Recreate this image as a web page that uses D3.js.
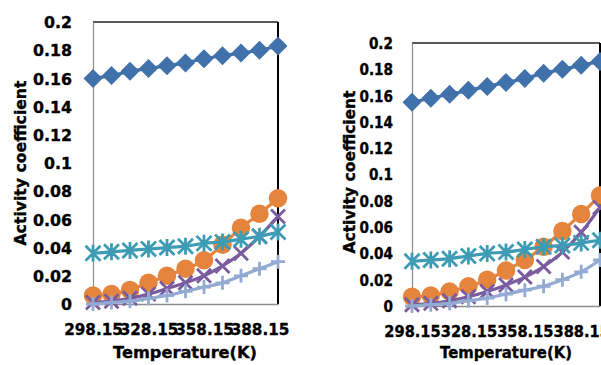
<!DOCTYPE html>
<html>
<head>
<meta charset="utf-8">
<script src="https://cdn.jsdelivr.net/npm/d3@7/dist/d3.min.js"></script>
<style>
  html, body { margin: 0; padding: 0; background: #fff; }
  svg { display: block; }
  text { font-family: "DejaVu Sans", sans-serif; font-weight: bold; fill: #000; stroke: #000; stroke-width: 0.35px; }
</style>
</head>
<body>
<svg id="chart" width="601" height="365"></svg>
<script>
// Temperature categories (K)
const temps = [298.15, 308.15, 318.15, 328.15, 338.15, 348.15, 358.15, 368.15, 378.15, 388.15, 398.15];
const xTickLabels = ["298.15", "328.15", "358.15", "388.15"];
const yTicks = [0, 0.02, 0.04, 0.06, 0.08, 0.1, 0.12, 0.14, 0.16, 0.18, 0.2];

// Left panel activity coefficients
const leftDiamond = [0.160, 0.162, 0.165, 0.167, 0.169, 0.171, 0.174, 0.176, 0.178, 0.180, 0.183];
const leftCircle  = [0.006, 0.007, 0.010, 0.015, 0.020, 0.025, 0.031, 0.042, 0.054, 0.064, 0.075];
const leftCross   = [0.001, 0.002, 0.004, 0.007, 0.011, 0.015, 0.020, 0.027, 0.036, 0.048, 0.062];
const leftStar    = [0.036, 0.037, 0.038, 0.039, 0.040, 0.041, 0.043, 0.044, 0.046, 0.048, 0.051];
const leftPlus    = [0.000, 0.001, 0.002, 0.004, 0.006, 0.009, 0.012, 0.015, 0.020, 0.025, 0.030];

// Right panel activity coefficients
const rightDiamond = [0.155, 0.158, 0.161, 0.164, 0.167, 0.170, 0.173, 0.177, 0.180, 0.183, 0.186];
const rightCircle  = [0.007, 0.008, 0.011, 0.015, 0.020, 0.027, 0.035, 0.045, 0.057, 0.070, 0.084];
const rightCross   = [0.001, 0.002, 0.004, 0.007, 0.011, 0.016, 0.022, 0.030, 0.041, 0.056, 0.075];
const rightStar    = [0.034, 0.035, 0.036, 0.038, 0.040, 0.041, 0.043, 0.045, 0.046, 0.048, 0.050];
const rightPlus    = [0.000, 0.001, 0.002, 0.004, 0.006, 0.009, 0.012, 0.015, 0.020, 0.026, 0.035];

const colors = {
  diamond: "#4171AB",
  circle: "#E5843C",
  cross: "#7A5C9E",
  star: "#3D9CB4",
  plus: "#93AAD3"
};

// Marker outlines, centred on the origin
const markerPath = {
  diamond: "M0,-9.5L9.5,0L0,9.5L-9.5,0Z",
  circle: d3.symbol(d3.symbolCircle, 270)(),
  cross: "M-7,-7L7,7M-7,7L7,-7",
  star: "M0,-8.5L0,8.5M-7.5,-7.5L7.5,7.5M-7.5,7.5L7.5,-7.5",
  plus: "M-7,0L7,0M0,-7L0,7"
};

// Approximate advance widths (em) of the bold label glyphs, used to fix label lengths
function labelEm(s) {
  let w = 0;
  for (const c of s) w += (c === ".") ? 0.38 : 0.696;
  return w;
}

const svg = d3.select("#chart");

function drawPanel(cfg) {
  const x = d3.scalePoint().domain(temps).range([cfg.left, cfg.right]);
  const y = d3.scaleLinear().domain([0, 0.2]).range([cfg.bottom, cfg.top]);
  const g = svg.append("g");

  // Plot frame: grey axis lines on left/bottom, black border on top/right
  g.append("line").attr("x1", cfg.left).attr("x2", cfg.right).attr("y1", cfg.top).attr("y2", cfg.top)
    .attr("stroke", "#222").attr("stroke-width", 1.5);
  g.append("line").attr("x1", cfg.right).attr("x2", cfg.right).attr("y1", cfg.top).attr("y2", cfg.bottom)
    .attr("stroke", "#000").attr("stroke-width", 2);

  const yAxis = d3.axisLeft(y).tickValues(yTicks).tickSize(0).tickPadding(cfg.yPad)
    .tickFormat(d => String(+d.toFixed(2)));
  const ya = g.append("g").attr("transform", `translate(${cfg.left},0)`).call(yAxis);
  ya.select(".domain").attr("stroke", "#8c8c8c").attr("stroke-width", 1.2);
  ya.selectAll("text").style("font-size", cfg.yFont + "px").attr("font-family", null).attr("dy", "0.36em")
    .attr("textLength", function() { return labelEm(this.textContent) * cfg.yEm; })
    .attr("lengthAdjust", "spacingAndGlyphs");

  const xAxis = d3.axisBottom(x)
    .tickValues(temps.filter(t => xTickLabels.includes(t.toFixed(2))))
    .tickSize(0).tickPadding(cfg.xPad).tickFormat(d => d.toFixed(2));
  const xa = g.append("g").attr("transform", `translate(0,${cfg.bottom})`).call(xAxis);
  xa.select(".domain").attr("stroke", "#8c8c8c").attr("stroke-width", 1.5);
  xa.selectAll("text").style("font-size", cfg.xFont + "px").attr("font-family", null)
    .attr("textLength", function() { return labelEm(this.textContent) * cfg.xEm; })
    .attr("lengthAdjust", "spacingAndGlyphs");

  // Series: line first, then markers
  cfg.series.forEach(s => {
    const line = d3.line().x((d, i) => x(temps[i])).y(d => y(d)).curve(d3.curveMonotoneX);
    g.append("path").datum(s.values).attr("d", line)
      .attr("fill", "none").attr("stroke", colors[s.kind]).attr("stroke-width", 3.2);
    const filled = s.kind === "diamond" || s.kind === "circle";
    g.append("g").selectAll("path").data(s.values).join("path")
      .attr("transform", (d, i) => `translate(${x(temps[i])},${y(d)})`)
      .attr("d", markerPath[s.kind])
      .attr("fill", filled ? colors[s.kind] : "none")
      .attr("stroke", filled ? "none" : colors[s.kind])
      .attr("stroke-width", filled ? 0 : 2.8);
  });

  // Axis titles
  g.append("text")
    .attr("transform", `translate(${cfg.yTitleX},${cfg.yTitleY}) rotate(-90)`)
    .attr("text-anchor", "middle").attr("dy", "0.36em")
    .attr("textLength", cfg.yTitleLen).attr("lengthAdjust", "spacingAndGlyphs")
    .style("font-size", cfg.yTitleFont + "px")
    .text("Activity coefficient");
  g.append("text")
    .attr("x", cfg.xTitleX).attr("y", cfg.xTitleY)
    .attr("text-anchor", "middle").attr("dy", "0.36em")
    .attr("textLength", cfg.xTitleLen).attr("lengthAdjust", "spacingAndGlyphs")
    .style("font-size", cfg.xTitleFont + "px")
    .text("Temperature(K)");
}

drawPanel({
  left: 93, right: 278, top: 22, bottom: 304,
  yPad: 21, xPad: 20, yFont: 16, xFont: 16, yEm: 15.8, xEm: 15.2,
  yTitleX: 20, yTitleY: 163, yTitleLen: 165, yTitleFont: 16,
  xTitleX: 185, xTitleY: 352, xTitleLen: 144, xTitleFont: 16,
  series: [
    { kind: "diamond", values: leftDiamond },
    { kind: "circle", values: leftCircle },
    { kind: "cross", values: leftCross },
    { kind: "star", values: leftStar },
    { kind: "plus", values: leftPlus }
  ]
});

drawPanel({
  left: 412, right: 600, top: 43, bottom: 306,
  yPad: 19, xPad: 20, yFont: 15, xFont: 15, yEm: 13.6, xEm: 14.6,
  yTitleX: 349, yTitleY: 172, yTitleLen: 163, yTitleFont: 15.5,
  xTitleX: 506, xTitleY: 352, xTitleLen: 132, xTitleFont: 15.5,
  series: [
    { kind: "diamond", values: rightDiamond },
    { kind: "circle", values: rightCircle },
    { kind: "cross", values: rightCross },
    { kind: "star", values: rightStar },
    { kind: "plus", values: rightPlus }
  ]
});
</script>
</body>
</html>
